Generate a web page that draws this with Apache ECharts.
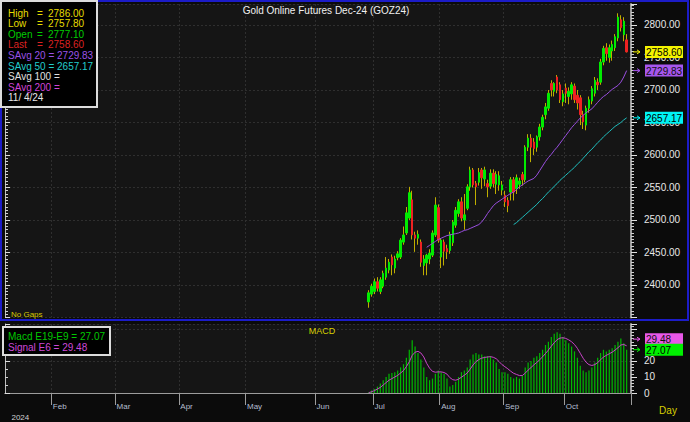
<!DOCTYPE html>
<html><head><meta charset="utf-8">
<script src="https://cdn.jsdelivr.net/npm/echarts@6/dist/echarts.min.js"></script>
<style>html,body{margin:0;padding:0;background:#0b0b0b;}#c{width:690px;height:422px;}</style>
</head><body><div id="c"></div>
<script>
// ---------- data ----------
const monthLabels = ['Feb','Mar','Apr','May','Jun','Jul','Aug','Sep','Oct'];
const monthStartSlot = [16,38,60,83,107,127,150,172,193];
const yearLabel = '2024';
const slotCount = 216;
const firstBarSlot = 125;
const priceTicks = [2400,2450,2500,2550,2600,2650,2700,2750,2800];
const macdTicks = [0,10,20];

const open = [2374,2386,2390,2405,2390,2398,2412,2423,2443,2426,
2442,2443,2466,2480,2503,2531,2477,2472,2466,2430,
2434,2440,2446,2477,2519,2443,2466,2456,2453,2465,
2492,2510,2528,2500,2518,2551,2577,2556,2558,2577,
2563,2556,2552,2572,2555,2554,2546,2538,2530,2543,
2562,2548,2555,2570,2562,2612,2626,2620,2612,2628,
2643,2662,2672,2710,2698,2720,2708,2682,2703,2690,
2694,2706,2692,2688,2662,2646,2672,2683,2695,2712,
2712,2743,2765,2750,2760,2765,2780,2808,2785,2777.1];
const close = [2388,2398,2405,2395,2408,2418,2426,2435,2431,2440,
2448,2469,2477,2511,2542,2477,2472,2478,2435,2440,
2446,2449,2480,2523,2469,2469,2452,2451,2478,2497,
2515,2528,2503,2508,2551,2577,2554,2551,2573,2565,
2577,2551,2572,2556,2570,2568,2554,2528,2522,2562,
2543,2565,2560,2562,2612,2626,2612,2610,2628,2643,
2658,2674,2695,2700,2710,2700,2685,2694,2695,2698,
2708,2685,2680,2662,2651,2672,2685,2702,2715,2708,
2743,2764,2756,2765,2770,2782,2812,2796,2806,2758.6];
const low = [2365,2382,2386,2390,2386,2395,2408,2418,2415,2418,
2438,2440,2462,2477,2500,2470,2451,2462,2428,2415,
2415,2432,2443,2474,2465,2426,2430,2440,2448,2460,
2488,2505,2498,2485,2515,2545,2550,2523,2553,2548,
2552,2535,2548,2550,2540,2545,2538,2520,2512,2530,
2530,2540,2548,2553,2558,2606,2589,2600,2605,2622,
2638,2655,2668,2690,2690,2695,2680,2675,2680,2678,
2685,2680,2670,2646,2640,2638,2665,2678,2690,2700,
2708,2738,2745,2742,2745,2760,2775,2790,2775,2757.8];
const high = [2392,2402,2410,2412,2412,2422,2443,2440,2447,2445,
2452,2472,2490,2520,2551,2545,2482,2484,2470,2446,
2448,2455,2484,2535,2524,2472,2470,2462,2482,2500,
2520,2532,2535,2540,2555,2582,2580,2560,2580,2580,
2582,2562,2578,2578,2575,2575,2560,2545,2535,2566,
2566,2570,2565,2574,2615,2632,2632,2626,2630,2648,
2662,2680,2700,2715,2712,2723,2712,2700,2710,2704,
2712,2710,2700,2692,2668,2676,2690,2706,2720,2718,
2748,2768,2772,2770,2776,2786,2818,2815,2812,2786];

const sma20Start = 20;
const sma20 = [2458,2461,2464,2467,2470,2472,2474,2476,2477,2478,
2479,2480,2482,2484,2485,2487,2489,2491,2493,2497,
2503,2510,2516,2522,2526,2529,2532,2535,2538,2541,
2543,2547,2551,2554,2557,2560,2562,2564,2569,2576,
2583,2590,2596,2601,2607,2612,2618,2624,2630,2636,
2642,2647,2652,2657,2661,2665,2668,2671,2676,2681,
2686,2690,2693,2697,2701,2704,2707,2712,2720,2729.83];
const sma50Start = 50;
const sma50 = [2493,2496,2500,2504,2508,2512,2516,2520,2524,2529,
2533,2538,2543,2547,2552,2556,2561,2565,2569,2573,
2577,2581,2586,2590,2595,2600,2605,2609,2614,2619,
2623,2628,2632,2636,2640,2644,2647,2650,2654,2657.17];

const macd = [0.5,1.5,2.5,4,6,8,10,12,12.5,13,
14,16,18,22,27,33,29,25,21,16,
10,8,9,12,14,13,12,9,4,5,
7,10,13,14,16,21,24,25,24,24,
23,23,23,21,19,15,13,13,12,10,
9,10,9,11,16,19,20,22,23,25,
27,30,32,35,37,38,37,35,33,31,
29,26,22,17,14,13,14,16,19,22,
25,27,26,27,28,30,32,34,31,27.07];
const signal = [0.2,0.8,1.5,2.5,3.5,5,6.5,8,9,10,
11,12.5,14,16.5,19.5,23.5,25.5,26,25,22.5,
18.5,15.5,13.5,13,13.2,13.2,12.8,11.8,9.6,8.3,
8,8.6,9.9,11.1,12.5,14.9,17.5,19.6,20.9,21.8,
22.2,22.5,22.7,22.3,21.4,19.6,17.7,16.4,15.1,13.6,
12.3,11.6,10.9,10.9,12.4,14.3,15.9,17.6,19.1,20.8,
22.6,24.7,26.8,29.2,31.4,33.3,34.3,34.5,34.1,33.2,
32,30.3,27.9,24.8,21.7,19.2,17.7,17.2,17.7,19,
20.7,22.5,23.5,24.5,25.5,26.8,28.3,30,30.3,29.48];

const legendLines = [
  ['High','2786.00','#e6dc00'],
  ['Low','2757.80','#e6dc00'],
  ['Open','2777.10','#00cc00'],
  ['Last','2758.60','#dd2222']
];
const legendLines2 = [
  ['SAvg 20 = 2729.83','#9a52e6'],
  ['SAvg 50 = 2657.17','#22cccc'],
  ['SAvg 100 =','#e0e0e0'],
  ['SAvg 200 =','#d044d8'],
  ['11/ 4/24','#e8e8e8']
];
const title = 'Gold Online Futures Dec-24 (GOZ24)';

// ---------- build ----------
const FONT = '"Liberation Sans", Arial, sans-serif';
const slots = Array.from({length: slotCount}, (_, i) => String(i));
const monthAt = {};
monthStartSlot.forEach((s, k) => { monthAt[s] = monthLabels[k]; });
const isMonth = (i) => monthAt[i] !== undefined;

const wickData = open.map((o, i) => [firstBarSlot + i, o, close[i], low[i], high[i]]);
const bodyData = open.map((o, i) => [firstBarSlot + i, o, close[i], Math.min(o, close[i]), Math.max(o, close[i])]);
const sma20Data = sma20.map((v, i) => [firstBarSlot + sma20Start + i, v]);
const sma50Data = sma50.map((v, i) => [firstBarSlot + sma50Start + i, v]);
const macdData = macd.map((v, i) => [firstBarSlot + i, v]);
const signalData = signal.map((v, i) => [firstBarSlot + i, v]);

const gridLine = {color: '#2f2f2f', type: [2, 2], width: 1};
const axisGray = '#9c9c9c';

const chart = echarts.init(document.getElementById('c'), null, {renderer: 'svg'});
chart.setOption({
  animation: false,
  backgroundColor: '#0b0b0b',
  grid: [
    {left: 5, right: 59, top: 4, bottom: 104.5, show: true, backgroundColor: '#151515', borderWidth: 0},
    {left: 5, right: 59, top: 324, bottom: 29, show: true, backgroundColor: '#151515', borderWidth: 0}
  ],
  xAxis: [
    {type: 'category', gridIndex: 0, position: 'bottom', data: slots, boundaryGap: true,
     axisLine: {show: false}, axisTick: {show: false}, axisLabel: {show: false},
     splitLine: {show: true, interval: isMonth, lineStyle: gridLine}},
    {type: 'category', gridIndex: 1, position: 'bottom', data: slots, boundaryGap: true, offset: 6,
     axisLine: {show: true, lineStyle: {color: axisGray, width: 1}},
     axisTick: {show: true, interval: isMonth, length: 12, lineStyle: {color: axisGray}},
     axisLabel: {show: true, interval: isMonth, formatter: (v, i) => monthAt[i] || '', align: 'left',
       color: '#b4bed0', fontSize: 8, fontFamily: FONT, margin: 3},
     splitLine: {show: true, interval: isMonth, lineStyle: gridLine}},
    {type: 'category', gridIndex: 1, position: 'bottom', data: slots, boundaryGap: true, offset: 18,
     axisLine: {show: true, lineStyle: {color: axisGray, width: 1}},
     axisTick: {show: false},
     axisLabel: {show: true, interval: (i) => i === 0, formatter: () => yearLabel, align: 'left',
       padding: [0, 0, 0, 5], color: '#d0d0d0', fontSize: 8, fontFamily: FONT, margin: 2},
     splitLine: {show: false}}
  ],
  yAxis: [
    {type: 'value', gridIndex: 0, position: 'right', min: 2350, max: 2832.3, interval: 50,
     axisLine: {show: true, lineStyle: {color: axisGray, width: 2}},
     axisTick: {show: true, length: 6, lineStyle: {color: '#e0e0e0'}},
     minorTick: {show: true, splitNumber: 10, length: 3, lineStyle: {color: '#cfcfcf'}},
     axisLabel: {show: true, color: '#e8e8e8', fontSize: 10, fontFamily: FONT, margin: 13,
       formatter: (v) => priceTicks.indexOf(v) >= 0 ? v.toFixed(2) : ''},
     showMinLabel: false, showMaxLabel: false,
     splitLine: {show: true, lineStyle: gridLine}},
    {type: 'value', gridIndex: 0, position: 'left', min: 2350, max: 2832.3, interval: 50,
     axisLine: {show: true, lineStyle: {color: '#bdbdbd', width: 1}},
     axisTick: {show: true, inside: true, length: 5, lineStyle: {color: '#dcdcdc'}},
     minorTick: {show: true, splitNumber: 10, length: 3, lineStyle: {color: '#cfcfcf'}},
     axisLabel: {show: false}, splitLine: {show: false}},
    {type: 'value', gridIndex: 1, position: 'right', min: 0, max: 43.1, interval: 10,
     axisLine: {show: true, lineStyle: {color: axisGray, width: 2}},
     axisTick: {show: true, length: 6, lineStyle: {color: '#e0e0e0'}},
     minorTick: {show: true, splitNumber: 5, length: 3, lineStyle: {color: '#cfcfcf'}},
     axisLabel: {show: true, color: '#e8e8e8', fontSize: 10, fontFamily: FONT, margin: 13,
       formatter: (v) => macdTicks.indexOf(v) >= 0 ? String(v) : ''},
     showMaxLabel: false, splitLine: {show: false}},
    {type: 'value', gridIndex: 1, position: 'left', min: 0, max: 43.1, interval: 20,
     axisLine: {show: true, lineStyle: {color: '#bdbdbd', width: 1}},
     axisTick: {show: true, inside: true, length: 5, lineStyle: {color: '#dcdcdc'}},
     minorTick: {show: true, splitNumber: 4, length: 3, lineStyle: {color: '#cfcfcf'}},
     axisLabel: {show: false}, splitLine: {show: true, lineStyle: gridLine}}
  ],
  series: [
    {name: 'wick', type: 'candlestick', xAxisIndex: 0, yAxisIndex: 0, data: wickData,
     encode: {x: 0, y: [1, 2, 3, 4]}, barWidth: 1,
     itemStyle: {color: '#bfae00', color0: '#bfae00', borderColor: '#bfae00', borderColor0: '#bfae00', borderWidth: 1}},
    {name: 'body', type: 'candlestick', xAxisIndex: 0, yAxisIndex: 0, data: bodyData,
     encode: {x: 0, y: [1, 2, 3, 4]}, barWidth: 2,
     itemStyle: {color: '#00ec00', color0: '#ee2222', borderColor: '#00ec00', borderColor0: '#ee2222', borderWidth: 1}},
    {name: 'SAvg 20', type: 'line', xAxisIndex: 0, yAxisIndex: 0, data: sma20Data, showSymbol: false,
     lineStyle: {color: '#9a4fe0', width: 1}},
    {name: 'SAvg 50', type: 'line', xAxisIndex: 0, yAxisIndex: 0, data: sma50Data, showSymbol: false,
     lineStyle: {color: '#1fbcbc', width: 1}},
    {name: 'Macd', type: 'bar', xAxisIndex: 1, yAxisIndex: 2, data: macdData, barWidth: 1.2,
     itemStyle: {color: '#00b800'}},
    {name: 'Signal', type: 'line', xAxisIndex: 1, yAxisIndex: 2, data: signalData, showSymbol: false,
     lineStyle: {color: '#c844c8', width: 1}}
  ]
});

// ---------- annotations ----------
function txt(text, x, y, fill, size, align) {
  return {type: 'text', z: 110, silent: true,
    style: {text: text, x: x, y: y, fill: fill, font: size + 'px ' + FONT,
      textAlign: align || 'left', textVerticalAlign: 'middle', align: align || 'left', verticalAlign: 'middle'}};
}
function tag(y, text, bg, fg) {
  return [
    {type: 'polyline', z: 110, silent: true, shape: {points: [[633, y], [640, y]]}, style: {stroke: bg, lineWidth: 1, fill: 'none'}},
    {type: 'polyline', z: 110, silent: true, shape: {points: [[637, y - 2], [640, y], [637, y + 2]]}, style: {stroke: bg, lineWidth: 1, fill: 'none'}},
    {type: 'rect', z: 109, silent: true, shape: {x: 645, y: y - 6, width: 38, height: 12}, style: {fill: bg}},
    txt(text, 646, y + 0.5, fg, 10)
  ];
}
const last = open.length - 1;
const yClose = chart.convertToPixel({yAxisIndex: 0}, close[last]);
const y20 = chart.convertToPixel({yAxisIndex: 0}, sma20[sma20.length - 1]);
const y50 = chart.convertToPixel({yAxisIndex: 0}, sma50[sma50.length - 1]);
const yM = chart.convertToPixel({yAxisIndex: 2}, macd[last]);
let yS = chart.convertToPixel({yAxisIndex: 2}, signal[last]);
if (yS > yM - 10.5) yS = yM - 10.5;

const g = [];
g.push({type: 'rect', z: 100, silent: true, shape: {x: 1, y: 1, width: 687, height: 319}, style: {fill: 'none', stroke: '#1c1cc8', lineWidth: 2}});
g.push(txt(title, 326, 10, '#f0f0f0', 10, 'center'));
g.push({type: 'rect', z: 105, silent: true, shape: {x: 1, y: 1, width: 96, height: 106}, style: {fill: '#000', stroke: '#dcdcdc', lineWidth: 2}});
legendLines.forEach((l, k) => {
  const y = 13 + k * 10.6;
  g.push(txt(l[0], 8, y, l[2], 10));
  g.push(txt('=', 37, y, l[2], 10));
  g.push(txt(l[1], 48, y, l[2], 10));
});
legendLines2.forEach((l, k) => {
  g.push(txt(l[0], 8, 13 + (k + 4) * 10.6, l[1], 10));
});
g.push(txt('No Gaps', 11, 314, '#d8c800', 8));
g.push({type: 'rect', z: 105, silent: true, shape: {x: 3, y: 327, width: 107, height: 28}, style: {fill: '#000', stroke: '#dcdcdc', lineWidth: 2}});
g.push(txt('Macd E19-E9 = ' + macd[last].toFixed(2), 8, 336, '#00c800', 10));
g.push(txt('Signal E6 = ' + signal[last].toFixed(2), 8, 347, '#cc48d8', 10));
g.push(txt('MACD', 322, 331, '#d8d000', 9, 'center'));
g.push(txt('Day', 668, 410, '#d8d000', 10, 'center'));
g.push(...tag(yClose, close[last].toFixed(2), '#f4f400', '#000'));
g.push(...tag(y20, sma20[sma20.length - 1].toFixed(2), '#a656ee', '#101010'));
g.push(...tag(y50, sma50[sma50.length - 1].toFixed(2), '#00f4f4', '#000'));
g.push(...tag(yS, signal[last].toFixed(2), '#e858e8', '#101010'));
g.push(...tag(yM, macd[last].toFixed(2), '#00f000', '#000'));
chart.setOption({graphic: g});
</script></body></html>
